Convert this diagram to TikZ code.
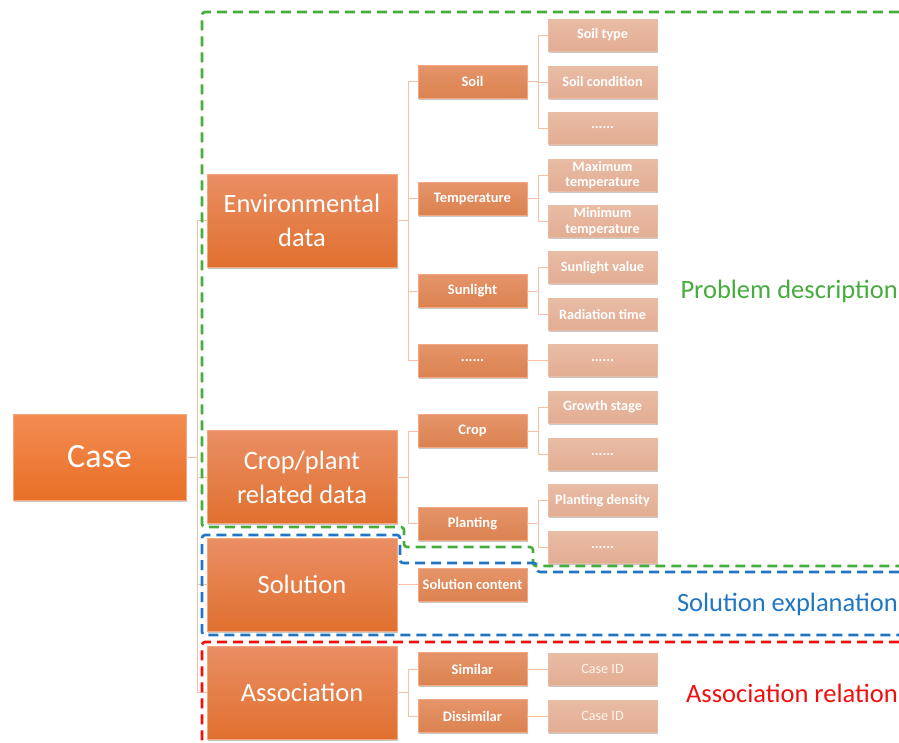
\documentclass[tikz,border=0pt]{standalone}
\usepackage{fontspec}
\setmainfont{Carlito}
\usetikzlibrary{shadows}
\definecolor{onetop}{HTML}{F38C52}
\definecolor{onebot}{HTML}{E96F26}
\definecolor{twotop}{HTML}{EA8E64}
\definecolor{twomid}{HTML}{EC7E40}
\definecolor{twobot}{HTML}{E0702E}
\definecolor{thrtop}{HTML}{E5946A}
\definecolor{thrbot}{HTML}{DB8250}
\definecolor{fourtop}{HTML}{E9BCA5}
\definecolor{fourbot}{HTML}{E2AD92}
\definecolor{edgecol}{HTML}{F4A882}
\definecolor{conncol}{HTML}{F8BFA5}
\definecolor{pgreen}{HTML}{46AC3C}
\definecolor{pblue}{HTML}{2176C2}
\definecolor{pred}{HTML}{F00F0F}
\begin{document}
\begin{tikzpicture}[x=1pt,y=-1pt,
  boxshadow/.style={drop shadow={shadow xshift=1pt,shadow yshift=-1.5pt,opacity=0.22,fill=black}},
  lvlone/.style={minimum width=173pt,minimum height=86pt,inner sep=0pt,top color=onetop,bottom color=onebot,draw=edgecol,line width=0.4pt,text=white,font=\fontsize{34}{40}\selectfont,boxshadow},
  lvltwo/.style={minimum width=190pt,minimum height=93pt,inner sep=0pt,top color=twotop,middle color=twomid,bottom color=twobot,draw=edgecol,line width=0.4pt,text=white,align=center,font=\fontsize{26.5}{34}\selectfont,boxshadow},
  lvlthree/.style={minimum width=109pt,minimum height=33pt,inner sep=0pt,top color=thrtop,bottom color=thrbot,draw=edgecol,line width=0.4pt,text=white,align=center,font=\fontsize{14.5}{15.5}\selectfont\bfseries,boxshadow},
  lvlfour/.style={minimum width=109pt,minimum height=32pt,inner sep=0pt,top color=fourtop,bottom color=fourbot,draw=fourtop,line width=0.4pt,text=white,align=center,font=\fontsize{14.2}{15.5}\selectfont\bfseries,boxshadow},
  lvlid/.style={lvlfour,text=white!92!orange,font=\fontsize{14.2}{15.5}\selectfont},
  conn/.style={draw=conncol,line width=0.9pt},
  grpline/.style={line width=2.6pt,dash pattern=on 10pt off 6pt,rounded corners=3pt},
  grplabel/.style={anchor=east,inner sep=0pt,font=\fontsize{26.5}{30}\selectfont}
]
\useasboundingbox (0,0) rectangle (899,742);

% level 1
\node[lvlone] (case) at (99.5,457) {Case};
% level 2
\node[lvltwo] (env) at (302,220.5) {Environmental\\data};
\node[lvltwo] (crop) at (302,477) {Crop/plant\\related data};
\node[lvltwo] (sol) at (302,584.5) {Solution};
\node[lvltwo] (assoc) at (302,692.5) {Association};
% level 3
\node[lvlthree] (soil) at (472.5,81.5) {Soil};
\node[lvlthree] (temp) at (472.5,198.5) {Temperature};
\node[lvlthree] (sun) at (472.5,291) {Sunlight};
\node[lvlthree] (dthree) at (472.5,360.5) {......};
\node[lvlthree] (cropn) at (472.5,431) {Crop};
\node[lvlthree] (plant) at (472.5,523.5) {Planting};
\node[lvlthree] (solc) at (472.5,584.5) {Solution content};
\node[lvlthree] (sim) at (472.5,669) {Similar};
\node[lvlthree] (dis) at (472.5,716) {Dissimilar};
% level 4
\node[lvlfour] (stype) at (602.5,35) {Soil type};
\node[lvlfour] (scond) at (602.5,82) {Soil condition};
\node[lvlfour] (sdots) at (602.5,128) {......};
\node[lvlfour] (maxt) at (602.5,175) {Maximum\\temperature};
\node[lvlfour] (mint) at (602.5,221.5) {Minimum\\temperature};
\node[lvlfour] (sval) at (602.5,267.5) {Sunlight value};
\node[lvlfour] (rtime) at (602.5,314.5) {Radiation time};
\node[lvlfour] (dfoura) at (602.5,360.5) {......};
\node[lvlfour] (gstage) at (602.5,407) {Growth stage};
\node[lvlfour] (dfourb) at (602.5,454.5) {......};
\node[lvlfour] (pdens) at (602.5,500.5) {Planting density};
\node[lvlfour] (dfourc) at (602.5,547.5) {......};
\node[lvlid] (cida) at (602.5,669) {Case ID};
\node[lvlid] (cidb) at (602.5,716) {Case ID};

% connectors level 1 -> 2
\path (case.east) ++(11.5,0) coordinate (ta);
\draw[conn] (case.east) -- (ta);
\draw[conn] (ta) |- (env.west);
\draw[conn] (ta) |- (crop.west);
\draw[conn] (ta) |- (sol.west);
\draw[conn] (ta) |- (assoc.west);
% level 2 -> 3
\path (env.east) ++(11,0) coordinate (tb);
\draw[conn] (env.east) -- (tb);
\draw[conn] (tb) |- (soil.west);
\draw[conn] (tb) |- (temp.west);
\draw[conn] (tb) |- (sun.west);
\draw[conn] (tb) |- (dthree.west);
\path (crop.east) ++(11,0) coordinate (tc);
\draw[conn] (crop.east) -- (tc);
\draw[conn] (tc) |- (cropn.west);
\draw[conn] (tc) |- (plant.west);
\draw[conn] (sol.east) -- (solc.west);
\path (assoc.east) ++(11,0) coordinate (td);
\draw[conn] (assoc.east) -- (td);
\draw[conn] (td) |- (sim.west);
\draw[conn] (td) |- (dis.west);
% level 3 -> 4
\path (soil.east) ++(11,0) coordinate (te);
\draw[conn] (soil.east) -- (te);
\draw[conn] (te) |- (stype.west);
\draw[conn] (te) |- (scond.west);
\draw[conn] (te) |- (sdots.west);
\path (temp.east) ++(11,0) coordinate (tf);
\draw[conn] (temp.east) -- (tf);
\draw[conn] (tf) |- (maxt.west);
\draw[conn] (tf) |- (mint.west);
\path (sun.east) ++(11,0) coordinate (tg);
\draw[conn] (sun.east) -- (tg);
\draw[conn] (tg) |- (sval.west);
\draw[conn] (tg) |- (rtime.west);
\draw[conn] (dthree.east) -- (dfoura.west);
\path (cropn.east) ++(11,0) coordinate (th);
\draw[conn] (cropn.east) -- (th);
\draw[conn] (th) |- (gstage.west);
\draw[conn] (th) |- (dfourb.west);
\path (plant.east) ++(11,0) coordinate (ti);
\draw[conn] (plant.east) -- (ti);
\draw[conn] (ti) |- (pdens.west);
\draw[conn] (ti) |- (dfourc.west);
\draw[conn] (sim.east) -- (cida.west);
\draw[conn] (dis.east) -- (cidb.west);

% group outlines
\draw[grpline,draw=pgreen] (899,12) -- (202,12) -- (202,527) -- (404,527) -- (404,547) -- (533,547) -- (533,566) -- (899,566);
\draw[grpline,draw=pblue] (899,572) -- (537,572) -- (537,563) -- (400,563) -- (400,535) -- (202,535) -- (202,635) -- (899,635);
\draw[grpline,draw=pred] (899,642) -- (202,642) -- (202,745);

% group labels
\node[grplabel,text=pgreen] (lprob) at (898,291) {Problem description};
\node[grplabel,text=pblue] (lsol) at (898,604) {Solution explanation};
\node[grplabel,text=pred] (lassoc) at (898,693) {Association relation};
\end{tikzpicture}
\end{document}
